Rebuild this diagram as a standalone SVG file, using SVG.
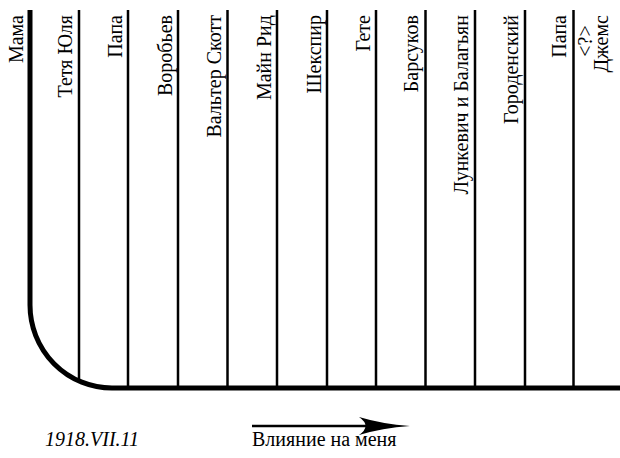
<svg xmlns="http://www.w3.org/2000/svg" width="620" height="458" viewBox="0 0 620 458">
<style>
.thin{stroke:#000;stroke-width:2.5;fill:none}
.thick{stroke:#000;stroke-width:5;fill:none}
text{font-family:'Liberation Serif','Times New Roman','DejaVu Serif',serif;font-size:20px;fill:#000}
.lbl{text-anchor:end}
.mid{text-anchor:middle}
</style>
<rect width="620" height="458" fill="#fff"/>
<g id="axis">
<path class="thick" d="M30,10 V305 A82,83 0 0 0 112,388 H620"/>
</g>
<g id="connectors">
<line class="thin" x1="79" y1="10" x2="79" y2="380"/>
<line class="thin" x1="128" y1="10" x2="128" y2="387"/>
<line class="thin" x1="178" y1="10" x2="178" y2="387"/>
<line class="thin" x1="227.5" y1="10" x2="227.5" y2="387"/>
<line class="thin" x1="277" y1="10" x2="277" y2="387"/>
<line class="thin" x1="327" y1="10" x2="327" y2="387"/>
<line class="thin" x1="376" y1="10" x2="376" y2="387"/>
<line class="thin" x1="425.5" y1="10" x2="425.5" y2="387"/>
<line class="thin" x1="475" y1="10" x2="475" y2="387"/>
<line class="thin" x1="525" y1="10" x2="525" y2="387"/>
<line class="thin" x1="573.5" y1="10" x2="573.5" y2="387"/>
</g>
<g id="n-mama"><text class="lbl" font-family="Liberation Serif, serif" transform="translate(23,15) rotate(-90)">Мама</text></g>
<g id="n-yulya"><text class="lbl" transform="translate(72,15) rotate(-90)">Тетя Юля</text></g>
<g id="n-papa1"><text class="lbl" transform="translate(122,15) rotate(-90)">Папа</text></g>
<g id="n-vorobyev"><text class="lbl" transform="translate(172,15) rotate(-90)">Воробьев</text></g>
<g id="n-scott"><text class="lbl" transform="translate(221,15) rotate(-90)">Вальтер Скотт</text></g>
<g id="n-reid"><text class="lbl" transform="translate(271,15) rotate(-90)">Майн Рид</text></g>
<g id="n-shakespeare"><text class="lbl" transform="translate(321,15) rotate(-90)">Шекспир</text></g>
<g id="n-goethe"><text class="lbl" transform="translate(370,15) rotate(-90)">Гете</text></g>
<g id="n-barsukov"><text class="lbl" transform="translate(418,15) rotate(-90)">Барсуков</text></g>
<g id="n-lunkevich"><text class="lbl" transform="translate(468,15) rotate(-90)">Лункевич и Балагьян</text></g>
<g id="n-gorodensky"><text class="lbl" transform="translate(518,15) rotate(-90)">Городенский</text></g>
<g id="n-papa2"><text class="lbl" transform="translate(566,15) rotate(-90)">Папа</text></g>
<g id="n-james">
<text class="mid" transform="translate(592,41) rotate(-90)">&lt;?&gt;</text>
<text class="lbl" transform="translate(608,15) rotate(-90)">Джемс</text>
</g>
<g id="arrow">
<line class="thin" x1="252" y1="426" x2="380" y2="426" stroke-width="3"/>
<path d="M410,426 Q382,428 359,435 Q372,426 359,417 Q382,424 410,426 Z" fill="#000"/>
</g>
<g id="captions">
<text x="45" y="446" font-style="italic">1918.VII.11</text>
<text x="252" y="446">Влияние на меня</text>
</g>
</svg>
